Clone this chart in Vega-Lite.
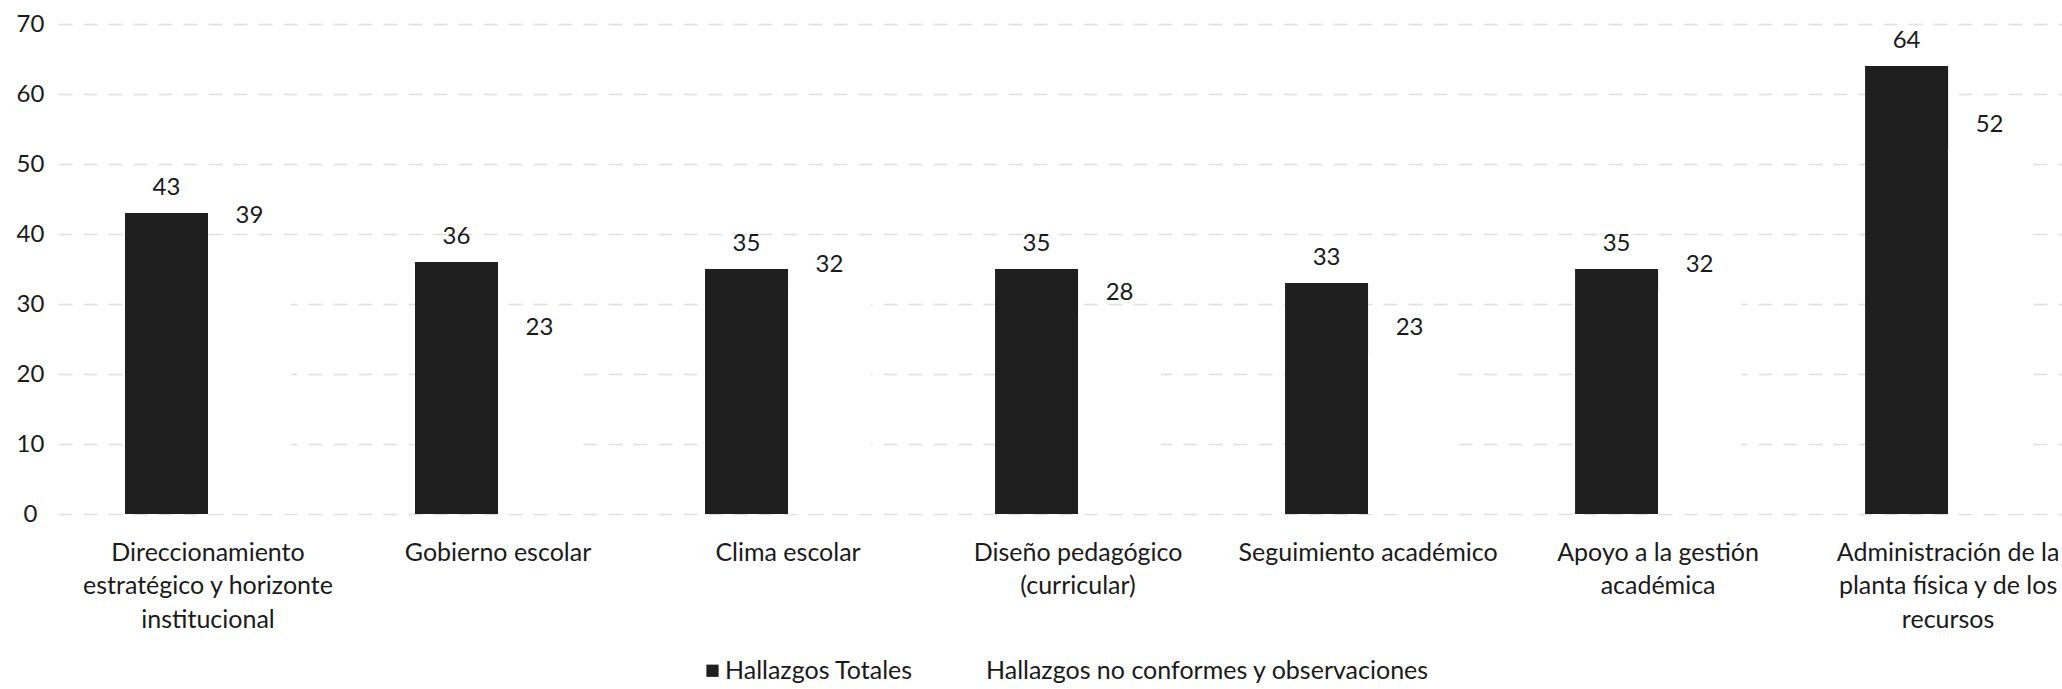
{
  "$schema": "https://vega.github.io/schema/vega-lite/v6.json",
  "width": 2004,
  "height": 490,
  "autosize": {"type": "none"},
  "padding": {"left": 58, "top": 24, "right": 0, "bottom": 175},
  "background": "white",
  "config": {"view": {"stroke": null}, "font": "Lato"},
  "data": {
    "values": [
      {"area": "Direccionamiento\nestratégico y horizonte\ninstitucional", "serie": "Hallazgos Totales", "valor": 43},
      {"area": "Direccionamiento\nestratégico y horizonte\ninstitucional", "serie": "Hallazgos no conformes y observaciones", "valor": 39},
      {"area": "Gobierno escolar", "serie": "Hallazgos Totales", "valor": 36},
      {"area": "Gobierno escolar", "serie": "Hallazgos no conformes y observaciones", "valor": 23},
      {"area": "Clima escolar", "serie": "Hallazgos Totales", "valor": 35},
      {"area": "Clima escolar", "serie": "Hallazgos no conformes y observaciones", "valor": 32},
      {"area": "Diseño pedagógico\n(curricular)", "serie": "Hallazgos Totales", "valor": 35},
      {"area": "Diseño pedagógico\n(curricular)", "serie": "Hallazgos no conformes y observaciones", "valor": 28},
      {"area": "Seguimiento académico", "serie": "Hallazgos Totales", "valor": 33},
      {"area": "Seguimiento académico", "serie": "Hallazgos no conformes y observaciones", "valor": 23},
      {"area": "Apoyo a la gestión\nacadémica", "serie": "Hallazgos Totales", "valor": 35},
      {"area": "Apoyo a la gestión\nacadémica", "serie": "Hallazgos no conformes y observaciones", "valor": 32},
      {"area": "Administración de la\nplanta física y de los\nrecursos", "serie": "Hallazgos Totales", "valor": 64},
      {"area": "Administración de la\nplanta física y de los\nrecursos", "serie": "Hallazgos no conformes y observaciones", "valor": 52}
    ]
  },
  "encoding": {
    "x": {
      "field": "area",
      "type": "nominal",
      "sort": null,
      "scale": {"paddingInner": 0.25, "paddingOuter": 0.08, "align": 0.889, "round": false},
      "axis": {
        "title": null,
        "domain": false,
        "ticks": false,
        "labelAngle": 0,
        "labelFont": "Lato",
        "labelFontSize": 25,
        "labelColor": "#1a1a1a",
        "labelLineHeight": 33.5,
        "labelBaseline": "top",
        "labelAlign": "center",
        "labelPadding": 26,
        "labelLimit": 0,
        "labelOverlap": false,
        "labelExpr": "split(datum.label, '\\n')"
      }
    },
    "xOffset": {
      "field": "serie",
      "type": "nominal",
      "sort": ["Hallazgos Totales", "Hallazgos no conformes y observaciones"],
      "scale": {"paddingInner": 0, "paddingOuter": 0.31, "round": false}
    },
    "y": {
      "field": "valor",
      "type": "quantitative",
      "scale": {"domain": [0, 70], "nice": false},
      "axis": {
        "title": null,
        "domain": false,
        "ticks": false,
        "values": [0, 10, 20, 30, 40, 50, 60, 70],
        "labelFont": "Lato",
        "labelFontSize": 24,
        "labelColor": "#1a1a1a",
        "labelAlign": "center",
        "labelPadding": 28,
        "grid": true,
        "gridColor": "#e0e0e0",
        "gridWidth": 1.5,
        "gridDash": [14, 11]
      }
    }
  },
  "layer": [
    {
      "mark": {"type": "bar"},
      "encoding": {
        "color": {
          "field": "serie",
          "type": "nominal",
          "sort": ["Hallazgos Totales", "Hallazgos no conformes y observaciones"],
          "scale": {"domain": ["Hallazgos Totales", "Hallazgos no conformes y observaciones"], "range": ["#1f1f1f", "#ffffff"]},
          "legend": {
            "title": null,
            "orient": "none",
            "direction": "horizontal",
            "legendX": 642,
            "legendY": 634,
            "symbolType": "square",
            "symbolSize": 150,
            "symbolStrokeWidth": 0,
            "symbolOpacity": 1,
            "labelFont": "Lato",
            "labelFontSize": 25,
            "labelColor": "#1a1a1a",
            "labelOffset": 0,
            "labelLimit": 0,
            "columnPadding": 48,
            "padding": 0
          }
        }
      }
    },
    {
      "mark": {"type": "text", "baseline": "alphabetic", "dy": -18, "fontSize": 24, "font": "Lato", "color": "#1a1a1a"},
      "encoding": {"text": {"field": "valor", "type": "quantitative"}}
    }
  ]
}
